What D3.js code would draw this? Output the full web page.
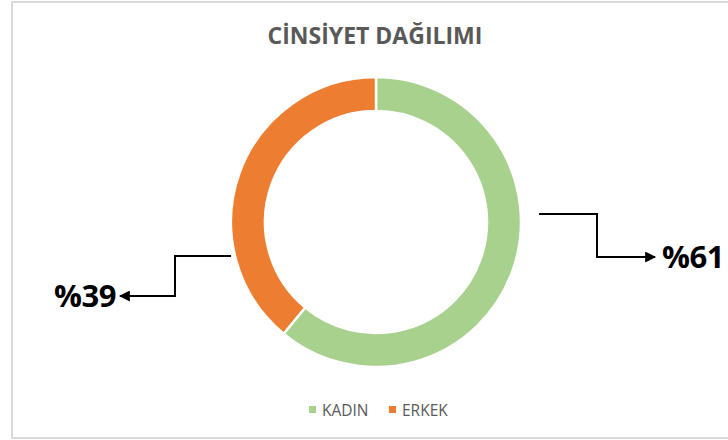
<!DOCTYPE html>
<html>
<head>
<meta charset="utf-8">
<script src="https://cdn.jsdelivr.net/npm/d3@7"></script>
<style>
  body { margin: 0; background: #fff; }
  svg { display: block; }
</style>
</head>
<body>
<svg id="chart"></svg>
<script>
const categories = ['KADIN', 'ERKEK'];
const values = [61, 39];
const labels = ['%61', '%39'];
const colors = ['#A9D18E', '#ED7D31'];
const title = 'CİNSİYET DAĞILIMI';

const width = 728;
const height = 440;
const cx = 376, cy = 222;
const outerR = 145, innerR = 111;
const font = "'Open Sans', sans-serif";

const svg = d3.select('#chart')
    .attr('width', width)
    .attr('height', height);

// chart border (right side runs off the picture)
svg.append('rect')
    .attr('x', 12).attr('y', 2)
    .attr('width', 730).attr('height', 436)
    .attr('fill', 'none')
    .attr('stroke', '#d9d9d9')
    .attr('stroke-width', 2);

svg.append('text')
    .attr('x', 375).attr('y', 44)
    .attr('text-anchor', 'middle')
    .style('font-family', font)
    .style('font-weight', 'bold')
    .style('font-size', '23px')
    .attr('fill', '#595959')
    .text(title);

const pie = d3.pie().sort(null).value(d => d.value);
const arc = d3.arc().innerRadius(innerR).outerRadius(outerR);
const data = categories.map((c, i) => ({ name: c, value: values[i], color: colors[i] }));

const g = svg.append('g').attr('transform', `translate(${cx},${cy})`);
g.selectAll('path')
    .data(pie(data))
    .enter()
    .append('path')
    .attr('d', arc)
    .attr('fill', d => d.data.color)
    .attr('stroke', '#fff')
    .attr('stroke-width', 2.5);

// arrow marker
svg.append('defs').append('marker')
    .attr('id', 'arrow')
    .attr('viewBox', '0 0 10 10')
    .attr('refX', 9).attr('refY', 5)
    .attr('markerWidth', 6.5).attr('markerHeight', 5.5)
    .attr('markerUnits', 'strokeWidth')
    .attr('orient', 'auto')
    .append('path')
    .attr('d', 'M0,0 L10,5 L0,10 Z')
    .attr('fill', '#000');

// connector lines to the big percentage labels
const callouts = [
    { pts: [[539, 214], [597, 214], [597, 257], [655, 257]], text: labels[0], tx: 662, ty: 268, anchor: 'start' },
    { pts: [[231, 256], [175, 256], [175, 296], [120, 296]], text: labels[1], tx: 116, ty: 307, anchor: 'end' }
];
const line = d3.line();
callouts.forEach(c => {
    svg.append('path')
        .attr('d', line(c.pts))
        .attr('fill', 'none')
        .attr('stroke', '#000')
        .attr('stroke-width', 2)
        .attr('marker-end', 'url(#arrow)');
    svg.append('text')
        .attr('x', c.tx).attr('y', c.ty)
        .attr('text-anchor', c.anchor)
        .style('font-family', font)
        .style('font-weight', 'bold')
        .style('font-size', '31px')
        .style('letter-spacing', '-0.5px')
        .attr('fill', '#000')
        .text(c.text);
});

// legend
const legend = svg.append('g').attr('transform', 'translate(309,416)');
const items = legend.selectAll('g')
    .data(data)
    .enter()
    .append('g')
    .attr('transform', (d, i) => `translate(${i * 80},0)`);
items.append('rect')
    .attr('x', 0).attr('y', -10)
    .attr('width', 7).attr('height', 7)
    .attr('fill', d => d.color);
items.append('text')
    .attr('x', 13).attr('y', 0)
    .style('font-family', font)
    .style('font-size', '15.5px')
    .attr('fill', '#595959')
    .text(d => d.name);
</script>
</body>
</html>
